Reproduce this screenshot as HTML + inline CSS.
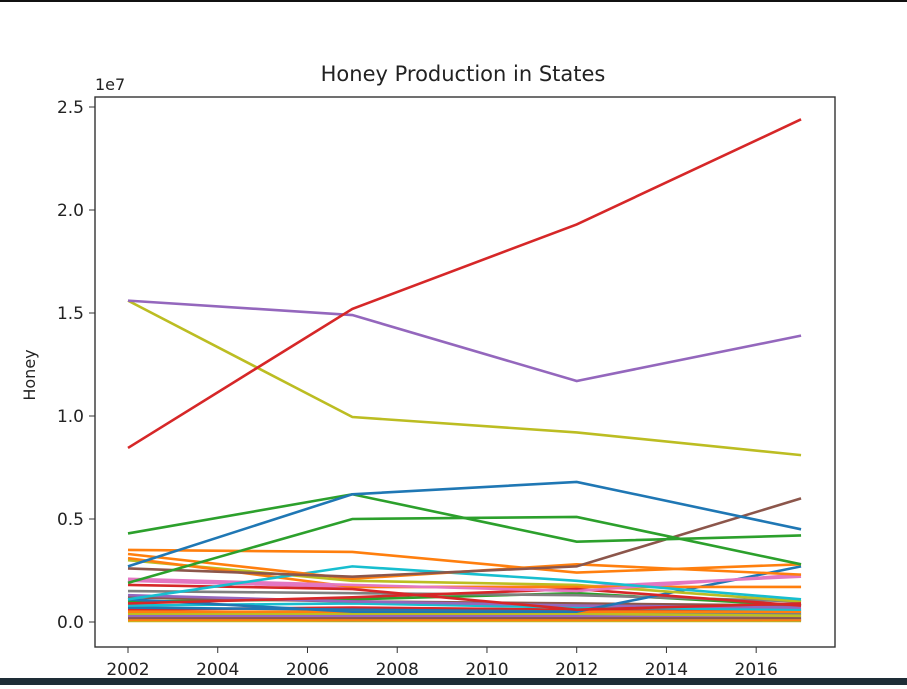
<!DOCTYPE html>
<html><head><meta charset="utf-8"><style>
body{margin:0;background:#fff;width:907px;height:685px;overflow:hidden;font-family:"DejaVu Sans","Liberation Sans",sans-serif}
</style></head><body>
<svg width="907" height="685">
<rect x="0" y="0" width="907" height="2" fill="#111"/>
<text x="463" y="81" text-anchor="middle" font-size="21" fill="#222">Honey Production in States</text>
<text x="95" y="90" font-size="16" fill="#222">1e7</text>
<text transform="translate(35,375) rotate(-90)" text-anchor="middle" font-size="16" fill="#222">Honey</text>
<g id="plot"></g>
<g id="axes"></g>
<rect x="95" y="97" width="740" height="550" fill="none" stroke="#333" stroke-width="1.4"/>
<rect x="0" y="678" width="907" height="7" fill="#1e2d36"/>
</svg>
<script>
const years=[2002,2007,2012,2017];
const xTicks=[2002,2004,2006,2008,2010,2012,2014,2016];
const yTicks=[0,0.5,1.0,1.5,2.0,2.5];
const seriesColors=["#d62728","#9467bd","#bcbd22","#1f77b4","#2ca02c","#2ca02c","#8c564b","#ff7f0e","#ff7f0e","#17becf","#e377c2","#d62728","#d62728","#ff7f0e","#bcbd22","#1f77b4","#7f7f7f","#e377c2","#9467bd","#8c564b","#2ca02c","#17becf","#ff7f0e","#1f77b4","#d62728","#bcbd22","#7f7f7f","#9467bd","#2ca02c","#8c564b","#e377c2","#17becf","#ff7f0e","#1f77b4","#bcbd22","#7f7f7f"];
const seriesValues=[
[0.845,1.52,1.93,2.44],
[1.56,1.49,1.17,1.39],
[1.56,0.995,0.92,0.81],
[0.27,0.62,0.68,0.45],
[0.43,0.62,0.39,0.42],
[0.19,0.50,0.51,0.28],
[0.26,0.22,0.27,0.60],
[0.35,0.34,0.24,0.28],
[0.33,0.21,0.28,0.23],
[0.11,0.27,0.20,0.11],
[0.21,0.18,0.15,0.23],
[0.18,0.16,0.06,0.09],
[0.09,0.12,0.16,0.08],
[0.31,0.17,0.17,0.17],
[0.30,0.20,0.18,0.10],
[0.11,0.05,0.05,0.27],
[0.15,0.14,0.13,0.10],
[0.20,0.17,0.17,0.22],
[0.13,0.10,0.08,0.07],
[0.12,0.10,0.09,0.08],
[0.10,0.11,0.14,0.08],
[0.08,0.09,0.07,0.06],
[0.05,0.05,0.05,0.05],
[0.07,0.06,0.05,0.05],
[0.06,0.07,0.06,0.06],
[0.04,0.04,0.04,0.03],
[0.05,0.04,0.04,0.04],
[0.03,0.03,0.03,0.03],
[0.04,0.05,0.05,0.04],
[0.02,0.02,0.02,0.02],
[0.03,0.02,0.03,0.02],
[0.02,0.03,0.02,0.02],
[0.01,0.01,0.01,0.01],
[0.015,0.01,0.015,0.01],
[0.005,0.005,0.005,0.005],
[0.01,0.02,0.01,0.01]
];
const xs=y=>128+(y-2002)*44.87;
const ys=v=>622-v*206;
const NS="http://www.w3.org/2000/svg";
const plot=document.getElementById('plot'),axes=document.getElementById('axes');
for(let i=seriesValues.length-1;i>=0;i--){
 const p=document.createElementNS(NS,'polyline');
 p.setAttribute('points',seriesValues[i].map((v,j)=>xs(years[j])+','+ys(v)).join(' '));
 p.setAttribute('fill','none');p.setAttribute('stroke',seriesColors[i]);p.setAttribute('stroke-width','2.6');
 
 
 plot.appendChild(p);
}
xTicks.forEach(t=>{
 const l=document.createElementNS(NS,'line');
 l.setAttribute('x1',xs(t));l.setAttribute('x2',xs(t));l.setAttribute('y1',647);l.setAttribute('y2',653);l.setAttribute('stroke','#333');
 
 
 axes.appendChild(l);
 const tx=document.createElementNS(NS,'text');
 tx.setAttribute('x',xs(t));tx.setAttribute('y',675);tx.setAttribute('text-anchor','middle');tx.setAttribute('font-size','17');tx.setAttribute('fill','#222');
 tx.textContent=t;
 
 
 axes.appendChild(tx);
});
yTicks.forEach(t=>{
 const l=document.createElementNS(NS,'line');
 l.setAttribute('x1',89);l.setAttribute('x2',95);l.setAttribute('y1',ys(t));l.setAttribute('y2',ys(t));l.setAttribute('stroke','#333');
 
 
 axes.appendChild(l);
 const tx=document.createElementNS(NS,'text');
 tx.setAttribute('x',84);tx.setAttribute('y',ys(t)+6);tx.setAttribute('text-anchor','end');tx.setAttribute('font-size','17');tx.setAttribute('fill','#222');
 tx.textContent=t.toFixed(1);
 
 
 axes.appendChild(tx);
});
</script>
</body></html>
